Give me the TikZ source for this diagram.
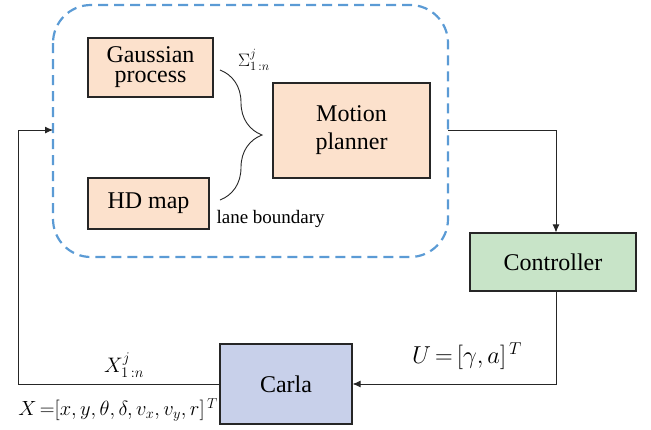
\RequirePackage{fix-cm}
\documentclass[tikz,border=0pt]{standalone}
\usepackage{amsmath}
\usepackage{fontspec}
\setmainfont{Liberation Serif}
\usetikzlibrary{arrows.meta,decorations.pathreplacing,calc}
\definecolor{orf}{HTML}{FCE1CC}
\definecolor{grf}{HTML}{C8E4C8}
\definecolor{blf}{HTML}{C8D0EA}
\definecolor{dsh}{HTML}{5B9BD5}
\tikzset{
  blk/.style={draw=black!85, line width=1.1pt, inner sep=0pt, align=center, font=\fontsize{24}{20}\selectfont},
  conn/.style={draw=black!85, line width=0.9pt},
  arr/.style={conn, -{Latex[length=8pt,width=7pt]}},
}
\begin{document}
\begin{tikzpicture}[x=1pt,y=-1pt]
\useasboundingbox (0,0) rectangle (651,429);
\draw[dsh, line width=2.2pt, dash pattern=on 10pt off 6pt, rounded corners=38pt] (53,5) rectangle (448,257);
\node[blk, fill=orf, minimum width=125pt, minimum height=59pt] (gp) at (150.5,67.5) {Gaussian\\process};
\node[blk, fill=orf, minimum width=121pt, minimum height=51pt] (hd) at (148.5,203.5) {HD map};
\node[blk, fill=orf, minimum width=157pt, minimum height=95pt] (mp) at (351.5,130.5) {Motion\\[8pt]planner};
\node[blk, fill=grf, minimum width=166pt, minimum height=58pt] (ctl) at (553,262) {Controller};
\node[blk, fill=blf, minimum width=132pt, minimum height=80pt] (carla) at (286,384) {Carla};
\coordinate (bt) at (220,70);
\coordinate (bb) at (220,200);
\draw[line width=0.9pt, black!85, decorate, decoration={brace, amplitude=42pt, aspect=0.5}] (bt) -- (bb);
\node[font=\fontsize{18}{18}\selectfont] (sig) at (254,60) {$\Sigma_{1\,:n}^{j}$};
\node[font=\fontsize{19}{19}\selectfont, anchor=west] (lb) at (213,219) {lane boundary};
\coordinate (inL) at (53,130);
\coordinate (c1) at (18,130);
\coordinate (c2) at (18,384);
\coordinate (d1) at (448,130);
\coordinate (d2) at (556,130);
\coordinate (e2) at (556,384);
\draw[conn] (d1) -- (d2);
\draw[arr] (d2) -- (d2 |- ctl.north);
\draw[arr] (ctl.south -| e2) -- (e2) -- (carla.east |- e2);
\draw[arr] (carla.west |- c2) -- (c2) -- (c1) -- (inL);
\node[font=\fontsize{21}{21}\selectfont] (xl) at (124,365) {$X_{1\,:n}^{j}$};
\node[font=\fontsize{20.5}{20.5}\selectfont] (xs) at (118,410) {$X\,{=}[x,y,\theta,\delta,v_x,v_y,r]^{\,T}$};
\node[font=\fontsize{24.5}{24.5}\selectfont] (ul) at (467,356) {$U\,{=}\,[\gamma,a]^{\,T}$};
\end{tikzpicture}
\end{document}
